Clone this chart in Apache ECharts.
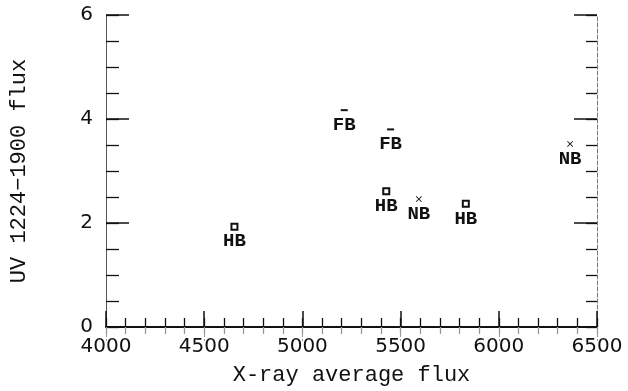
<!DOCTYPE html>
<html>
<head>
<meta charset="utf-8">
<script src="https://cdn.jsdelivr.net/npm/echarts@6/dist/echarts.min.js"></script>
<style>
  html, body { margin: 0; padding: 0; background: #fff; }
  #chart { width: 628px; height: 391px; }
</style>
</head>
<body>
<div id="chart"></div>
<script>
// Source states, with their X-ray and UV fluxes
const hbPoints = [[4654, 1.93], [5427, 2.61], [5832, 2.37]];
const fbPoints = [[5213, 4.17], [5449, 3.80]];
const nbPoints = [[5593, 2.46], [6363, 3.52]];
const stateNames = ['HB', 'FB', 'NB'];

const xTitle = 'X-ray average flux';
const yTitle = 'UV 1224\u22121900 flux';

const ink = '#111';
const monoFont = 'Liberation Mono, DejaVu Sans Mono, monospace';
const sansFont = 'DejaVu Sans, sans-serif';

const crossPath = 'path://M0,1L1,0L5,4L9,0L10,1L6,5L10,9L9,10L5,6L1,10L0,9L4,5Z';

function stateLabel(name) {
  return {
    show: true,
    position: 'inside',
    offset: [0, 15],
    formatter: name,
    color: ink,
    fontFamily: monoFont,
    fontWeight: 'bold',
    fontSize: 19
  };
}

const chart = echarts.init(document.getElementById('chart'), null, { renderer: 'canvas' });

const xRange = { type: 'value', min: 4000, max: 6500, splitLine: { show: false } };
const yRange = { type: 'value', min: 0, max: 6, splitLine: { show: false } };

// an extra axis that only draws the small inward ticks
function minorAxis(range, position, interval, length, color) {
  return Object.assign({}, range, {
    position: position,
    interval: interval,
    axisLine: { show: false },
    axisLabel: { show: false },
    axisTick: { inside: true, length: length, lineStyle: { color: color, width: 1.3 } }
  });
}

chart.setOption({
  animation: false,
  backgroundColor: '#fff',
  grid: { left: 103, right: 31, top: 15, bottom: 62 },
  xAxis: [
    Object.assign({}, xRange, {
      position: 'bottom',
      interval: 500,
      name: xTitle,
      nameLocation: 'middle',
      nameGap: 37,
      nameTextStyle: { color: ink, fontFamily: monoFont, fontSize: 22 },
      axisLine: { lineStyle: { color: ink, width: 2 } },
      axisTick: { inside: true, length: 16, lineStyle: { color: ink, width: 1.5 } },
      axisLabel: { color: ink, fontFamily: sansFont, fontSize: 20, margin: 10, formatter: v => String(v) }
    }),
    Object.assign({}, xRange, {
      position: 'top',
      interval: 500,
      axisLine: { lineStyle: { color: ink, width: 1.8 } },
      axisTick: { inside: true, length: 14, lineStyle: { color: '#999', width: 1, type: 'dashed' } },
      axisLabel: { show: false }
    }),
    minorAxis(xRange, 'bottom', 100, 9, ink),
    minorAxis(xRange, 'top', 100, 7, '#999')
  ],
  yAxis: [
    Object.assign({}, yRange, {
      position: 'left',
      interval: 2,
      name: yTitle,
      nameLocation: 'middle',
      nameGap: 76,
      nameTextStyle: { color: ink, fontFamily: monoFont, fontSize: 22 },
      axisLine: { lineStyle: { color: '#555', width: 1 } },
      axisTick: { inside: true, length: 23, lineStyle: { color: ink, width: 1.5 } },
      axisLabel: { color: ink, fontFamily: sansFont, fontSize: 20, margin: 13 }
    }),
    Object.assign({}, yRange, {
      position: 'right',
      interval: 2,
      axisLine: { lineStyle: { color: '#777', width: 1, type: 'dashed' } },
      axisTick: { inside: true, length: 23, lineStyle: { color: ink, width: 1.5 } },
      axisLabel: { show: false }
    }),
    minorAxis(yRange, 'left', 0.5, 13, ink),
    minorAxis(yRange, 'right', 0.5, 11, ink)
  ],
  series: [
    {
      name: stateNames[0], type: 'scatter', data: hbPoints,
      symbol: 'emptyRect', symbolSize: 6,
      itemStyle: { color: ink, borderColor: ink, borderWidth: 1.5, opacity: 1 },
      label: stateLabel(stateNames[0])
    },
    {
      name: stateNames[1], type: 'scatter', data: fbPoints,
      symbol: 'rect', symbolSize: [7, 2],
      itemStyle: { color: ink, opacity: 1 },
      label: stateLabel(stateNames[1])
    },
    {
      name: stateNames[2], type: 'scatter', data: nbPoints,
      symbol: crossPath, symbolSize: 6,
      itemStyle: { color: ink, opacity: 1 },
      label: stateLabel(stateNames[2])
    }
  ]
});
</script>
</body>
</html>
